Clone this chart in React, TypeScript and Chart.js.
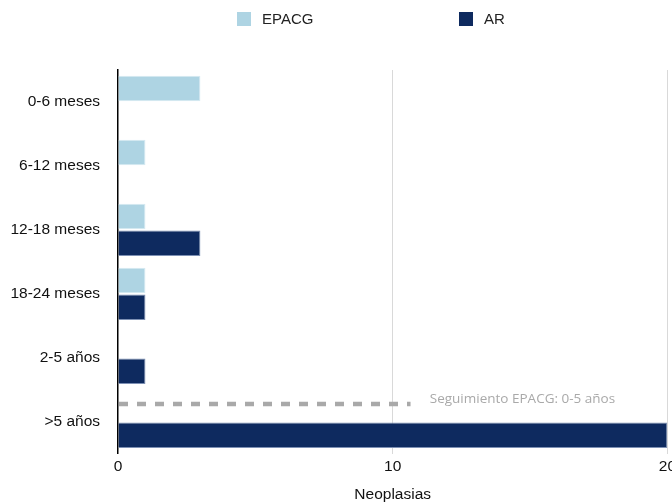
import React, { useEffect, useRef } from "react";
import { Chart, registerables } from "chart.js";

Chart.register(...registerables);

const categories = ["0-6 meses", "6-12 meses", "12-18 meses", "18-24 meses", "2-5 años", ">5 años"];
const epacgValues = [3, 1, 1, 1, null, null];
const arValues = [null, null, 3, 1, 1, 20];
const seriesNames = ["EPACG", "AR"];
const xTickValues = [0, 10, 20];
const axisTitle = "Neoplasias";
const followUpLabel = "Seguimiento EPACG: 0-5 años";
const followUpRow = 4.72; // position on category axis
const followUpEnd = 10.65; // x value where dashed line ends
const followUpLabelStart = 11.35;

const EPACG_COLOR = "#aed4e3";
const AR_COLOR = "#0e2a5f";
const FONT = "'Liberation Sans', Arial, sans-serif";

const legendPlugin = {
  id: "customLegend",
  afterDraw(chart: any) {
    const ctx = chart.ctx;
    const positions = [237, 459];
    ctx.save();
    ctx.font = "15px " + FONT;
    ctx.textBaseline = "middle";
    ctx.textAlign = "left";
    chart.data.datasets.forEach((ds: any, i: number) => {
      const x = positions[i];
      ctx.fillStyle = ds.backgroundColor;
      ctx.fillRect(x, 12, 14, 14);
      ctx.fillStyle = "#222";
      ctx.fillText(ds.label, x + 25, 19.5);
    });
    ctx.restore();
  },
};

const followUpPlugin = {
  id: "followUp",
  afterDatasetsDraw(chart: any) {
    const ctx = chart.ctx;
    const xs = chart.scales.x;
    const ys = chart.scales.y;
    const y = ys.getPixelForValue(followUpRow);
    ctx.save();
    ctx.strokeStyle = "#a9a9a9";
    ctx.lineWidth = 4.5;
    ctx.setLineDash([9, 9]);
    ctx.beginPath();
    ctx.moveTo(xs.getPixelForValue(0) + 1, y);
    ctx.lineTo(xs.getPixelForValue(followUpEnd), y);
    ctx.stroke();
    ctx.setLineDash([]);
    ctx.fillStyle = "#a9a9a9";
    ctx.font = "13.5px 'Open Sans', sans-serif";
    ctx.textBaseline = "middle";
    ctx.textAlign = "left";
    ctx.fillText(followUpLabel, xs.getPixelForValue(followUpLabelStart), y - 5);
    ctx.restore();
  },
};

export default function App() {
  const ref = useRef<HTMLCanvasElement>(null);
  useEffect(() => {
    document.body.style.margin = "0";
    const canvas = ref.current!;
    const chart = new Chart(canvas, {
      type: "bar",
      data: {
        labels: categories,
        datasets: [
          {
            label: seriesNames[0],
            data: epacgValues as any,
            backgroundColor: EPACG_COLOR,
            borderColor: "#d6eaf2",
            borderWidth: 1,
            categoryPercentage: 0.84,
            barPercentage: 0.95,
          },
          {
            label: seriesNames[1],
            data: arValues as any,
            backgroundColor: AR_COLOR,
            borderColor: "#7d90b4",
            borderWidth: 1,
            categoryPercentage: 0.84,
            barPercentage: 0.95,
          },
        ],
      },
      options: {
        indexAxis: "y",
        animation: false,
        responsive: false,
        devicePixelRatio: 1,
        layout: { padding: { top: 70, left: 0, right: 0, bottom: 0 } },
        plugins: {
          legend: { display: false },
          tooltip: { enabled: false },
        },
        scales: {
          x: {
            min: 0,
            max: 20,
            afterBuildTicks: (scale: any) => {
              scale.ticks = xTickValues.map((v) => ({ value: v }));
            },
            grid: {
              color: (c: any) => (c.tick && c.tick.value === 0 ? "rgba(0,0,0,0)" : "#d9d9d9"),
              lineWidth: 1,
              drawTicks: true,
              tickLength: 0,
            },
            border: { display: false },
            ticks: {
              color: "#111",
              font: { family: FONT, size: 15.5 },
              padding: 4,
              maxRotation: 0,
            },
            title: {
              display: true,
              text: axisTitle,
              color: "#111",
              font: { family: FONT, size: 15.5 },
              padding: { top: 5, bottom: 0 },
            },
          },
          y: {
            afterFit: (scale: any) => {
              scale.width = 118;
            },
            grid: { display: false, drawTicks: false },
            border: { display: true, color: "#000", width: 1.5 },
            ticks: {
              color: "#111",
              font: { family: FONT, size: 15.5 },
              padding: 18,
            },
          },
        },
      },
      plugins: [legendPlugin, followUpPlugin],
    });
    return () => chart.destroy();
  }, []);
  return (
    <div style={{ width: 672, height: 504, overflow: "hidden", position: "relative", background: "#fff" }}>
      <canvas ref={ref} width={680} height={504} style={{ display: "block" }} />
    </div>
  );
}
